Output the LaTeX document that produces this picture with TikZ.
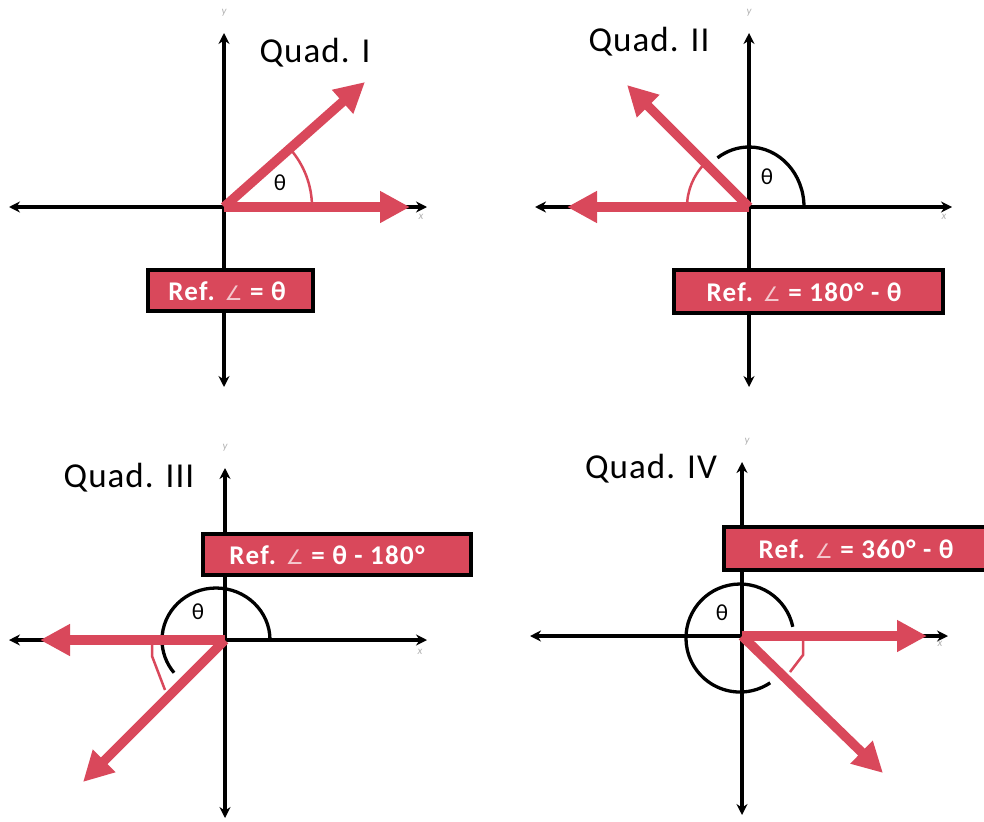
\documentclass[tikz,border=0pt]{standalone}
\usepackage{fontspec}
\setmainfont{Carlito}
\newfontfamily\quadfont[LetterSpace=3]{Carlito}
\newfontfamily\boxfont[LetterSpace=5]{Carlito}
\newfontfamily\symf{DejaVu Sans}
\usetikzlibrary{arrows.meta}
\definecolor{refred}{RGB}{217,72,91}
\newcommand{\angsym}{{\symf\mdseries\color{white!70!refred}\fontsize{20}{22}\selectfont ∠}}
\begin{document}
\begin{tikzpicture}[x=1pt,y=-1pt,
  axis/.style={line width=3.3pt, {Stealth[length=11pt,width=11pt]}-{Stealth[length=11pt,width=11pt]}},
  vec/.style={line width=9.5pt, draw=refred, -{Triangle[length=30pt,width=30pt]}},
  bigarc/.style={line width=3.3pt},
  smallarc/.style={line width=2.5pt, draw=refred},
  refbox/.style={draw=black, line width=4pt, fill=refred, inner sep=0pt},
  boxtext/.style={text=white, font=\boxfont\bfseries\fontsize{27}{30}\selectfont, inner sep=0pt},
  quad/.style={font=\quadfont\fontsize{35}{38}\selectfont, text=black, inner sep=0pt},
  th/.style={font=\fontsize{23}{26}\selectfont, inner sep=0pt},
  axlab/.style={font=\itshape\fontsize{11}{12}\selectfont, text=black!30, inner sep=0pt}
]
\useasboundingbox (0,0) rectangle (984,821);

% ---------------- Quad I ----------------
\coordinate (o1) at (224,207);
\coordinate (x1l) at (9,207);   \coordinate (x1r) at (427,207);
\coordinate (y1t) at (224,33);  \coordinate (y1b) at (224,387);
\draw[axis] (x1l) -- (x1r);
\draw[axis] (y1b) -- (y1t);
\node[axlab] (ylab1) at (224,13) {y};
\node[axlab] (xlab1) at (421,217) {x};
\node[refbox, minimum width=165pt, minimum height=41pt] (box1) at (230.5,290.5) {};
\node[boxtext] (txt1) at (227,291) {Ref. \angsym{} = θ};
\coordinate (a1s) at (312,207);
\draw[smallarc] (a1s) arc[start angle=0, end angle=-41.6, radius=88];
\coordinate (v1a) at (365,82);  \coordinate (v1b) at (410,207);
\draw[vec] (o1) -- (v1a);
\draw[vec] (o1) -- (v1b);
\node[th] (th1) at (280,183) {θ};
\node[quad] (q1) at (315,53) {Quad. I};

% ---------------- Quad II ----------------
\coordinate (o2) at (749,207);
\coordinate (x2l) at (535,207);  \coordinate (x2r) at (952,207);
\coordinate (y2t) at (749,33);   \coordinate (y2b) at (749,387);
\draw[axis] (x2l) -- (x2r);
\draw[axis] (y2b) -- (y2t);
\node[axlab] (ylab2) at (749,13) {y};
\node[axlab] (xlab2) at (944,217) {x};
\node[refbox, minimum width=269pt, minimum height=43pt] (box2) at (808.5,291.5) {};
\node[boxtext] (txt2) at (804,292) {Ref. \angsym{} = 180° - θ};
\coordinate (a2s) at (804,207);
\draw[bigarc] (a2s) arc[start angle=0, end angle=-125, x radius=55, y radius=60];
\coordinate (r2s) at (687,207);
\draw[smallarc] (r2s) arc[start angle=180, end angle=224, radius=62];
\coordinate (v2a) at (567,207);  \coordinate (v2b) at (627,85);
\draw[vec] (o2) -- (v2a);
\draw[vec] (o2) -- (v2b);
\node[th] (th2) at (767,177) {θ};
\node[quad] (q2) at (649,42) {Quad. II};

% ---------------- Quad III ----------------
\coordinate (o3) at (225,640);
\coordinate (x3l) at (9,640);    \coordinate (x3r) at (427,640);
\coordinate (y3t) at (225,468);  \coordinate (y3b) at (225,818);
\draw[axis] (x3l) -- (x3r);
\draw[axis] (y3b) -- (y3t);
\node[axlab] (ylab3) at (225,448) {y};
\node[axlab] (xlab3) at (420,652) {x};
\node[refbox, minimum width=268pt, minimum height=41pt] (box3) at (337,554.5) {};
\node[boxtext] (txt3) at (327,555) {Ref. \angsym{} = θ - 180°};
\coordinate (a3s) at (270,640);
\draw[bigarc] (a3s) arc[start angle=0, end angle=-219, x radius=54, y radius=52];
\coordinate (r3a) at (152,643); \coordinate (r3b) at (152,656); \coordinate (r3c) at (165,690);
\draw[smallarc] (r3a) -- (r3b) -- (r3c);
\coordinate (v3a) at (40,640);   \coordinate (v3b) at (83,782);
\draw[vec] (o3) -- (v3a);
\draw[vec] (o3) -- (v3b);
\node[th] (th3) at (198,612) {θ};
\node[quad] (q3) at (129,478) {Quad. III};

% ---------------- Quad IV ----------------
\coordinate (o4) at (742,636);
\coordinate (x4l) at (530,636);  \coordinate (x4r) at (948,636);
\coordinate (y4t) at (742,462);  \coordinate (y4b) at (742,815);
\draw[axis] (x4l) -- (x4r);
\draw[axis] (y4b) -- (y4t);
\node[axlab] (ylab4) at (747,442) {y};
\node[axlab] (xlab4) at (940,644) {x};
\node[refbox, minimum width=274pt, minimum height=43pt] (box4) at (861,548.5) {};
\node[boxtext] (txt4) at (856,549) {Ref. \angsym{} = 360° - θ};
\coordinate (a4s) at (792.8,626.8);
\draw[bigarc] (a4s) arc[start angle=-12, end angle=-304, radius=54];
\coordinate (r4a) at (803,640); \coordinate (r4b) at (803,655); \coordinate (r4c) at (790,672);
\draw[smallarc] (r4a) -- (r4b) -- (r4c);
\coordinate (v4a) at (927,636);  \coordinate (v4b) at (883,773);
\draw[vec] (o4) -- (v4a);
\draw[vec] (o4) -- (v4b);
\node[th] (th4) at (722,613) {θ};
\node[quad] (q4) at (651,469) {Quad. IV};
\end{tikzpicture}
\end{document}
